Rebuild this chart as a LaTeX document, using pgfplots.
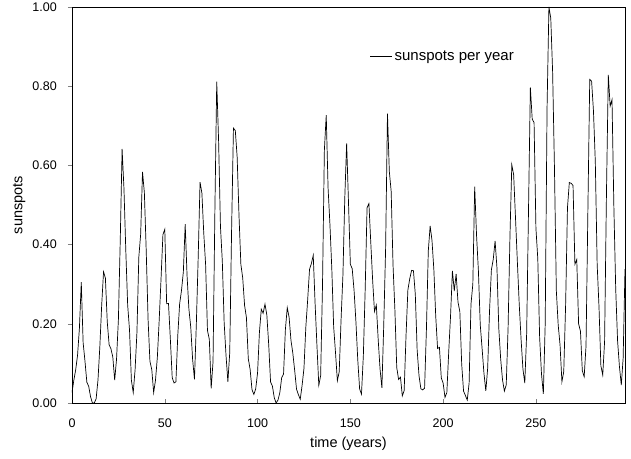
\documentclass[border=0pt]{standalone}
\usepackage{pgfplots}
\pgfplotsset{compat=1.18}
\usepackage{pgfplotstable}
\usepackage{fontspec}
\setmainfont{Liberation Sans}
\pgfplotstableread{
x y
0 5
1 11
2 16
3 23
4 36
5 58
6 29
7 20
8 10
9 8
10 3
11 0
12 0
13 2
14 11
15 27
16 47
17 63
18 60
19 39
20 28
21 26
22 22
23 11
24 21
25 40
26 78
27 122
28 103
29 73
30 47
31 35
32 11
33 5
34 16
35 34
36 70
37 81
38 111
39 101
40 73
41 40
42 20
43 16
44 5
45 11
46 22
47 40
48 60
49 80.9
50 83.4
51 47.7
52 47.8
53 30.7
54 12.2
55 9.6
56 10.2
57 32.4
58 47.6
59 54.0
60 62.9
61 85.9
62 61.2
63 45.1
64 36.4
65 20.9
66 11.4
67 37.8
68 69.8
69 106.1
70 100.8
71 81.6
72 66.5
73 34.8
74 30.6
75 7.0
76 19.8
77 92.5
78 154.4
79 125.9
80 84.8
81 68.1
82 38.5
83 22.8
84 10.2
85 24.1
86 82.9
87 132.0
88 130.9
89 118.1
90 89.9
91 66.6
92 60.0
93 46.9
94 41.0
95 21.3
96 16.0
97 6.4
98 4.1
99 6.8
100 14.5
101 34.0
102 45.0
103 43.1
104 47.5
105 42.2
106 28.1
107 10.1
108 8.1
109 2.5
110 0.0
111 1.4
112 5.0
113 12.2
114 13.9
115 35.4
116 45.8
117 41.1
118 30.1
119 23.9
120 15.6
121 6.6
122 4.0
123 1.8
124 8.5
125 16.6
126 36.3
127 49.6
128 64.2
129 67.0
130 70.9
131 47.8
132 27.5
133 8.5
134 13.2
135 56.9
136 121.5
137 138.3
138 103.2
139 85.7
140 64.6
141 36.7
142 24.2
143 10.7
144 15.0
145 40.1
146 61.5
147 98.5
148 124.7
149 96.3
150 66.6
151 64.5
152 54.1
153 39.0
154 20.6
155 6.7
156 4.3
157 22.7
158 54.8
159 93.8
160 95.8
161 77.2
162 59.1
163 44.0
164 47.0
165 30.5
166 16.3
167 7.3
168 37.6
169 74.0
170 139.0
171 111.2
172 101.6
173 66.2
174 44.7
175 17.0
176 11.3
177 12.4
178 3.4
179 6.0
180 32.3
181 54.3
182 59.7
183 63.7
184 63.5
185 52.2
186 25.4
187 13.1
188 6.8
189 6.3
190 7.1
191 35.6
192 73.0
193 85.1
194 78.0
195 64.0
196 41.8
197 26.2
198 26.7
199 12.1
200 9.5
201 2.7
202 5.0
203 24.4
204 42.0
205 63.5
206 53.8
207 62.0
208 48.5
209 43.9
210 18.6
211 5.7
212 3.6
213 1.4
214 9.6
215 47.4
216 57.1
217 103.9
218 80.6
219 63.6
220 37.6
221 26.1
222 14.2
223 5.8
224 16.7
225 44.3
226 63.9
227 69.0
228 77.8
229 64.9
230 35.7
231 21.2
232 11.1
233 5.7
234 8.7
235 36.1
236 79.7
237 114.4
238 109.6
239 88.8
240 67.8
241 47.5
242 30.6
243 16.3
244 9.6
245 33.2
246 92.6
247 151.6
248 136.3
249 134.7
250 83.9
251 69.4
252 31.5
253 13.9
254 4.4
255 38.0
256 141.7
257 190.2
258 184.8
259 159.0
260 112.3
261 53.9
262 37.5
263 27.9
264 10.2
265 15.1
266 47.0
267 93.8
268 105.9
269 105.5
270 104.5
271 66.6
272 68.9
273 38.0
274 34.5
275 15.5
276 12.6
277 27.5
278 92.5
279 155.4
280 154.6
281 140.4
282 115.9
283 66.6
284 45.9
285 17.9
286 13.4
287 29.4
288 100.2
289 157.6
290 142.6
291 145.7
292 94.3
293 54.6
294 29.9
295 17.5
296 8.6
297 21.5
298 64.3
}\sunspots
\begin{document}
\fontsize{12}{14}\selectfont
\begin{tikzpicture}
\begin{axis}[
  scale only axis,
  width=553pt, height=396pt,
  xmin=0, xmax=298, ymin=0, ymax=1,
  xtick={0,50,100,150,200,250},
  ytick={0,0.2,0.4,0.6,0.8,1.0},
  tick pos=left,
  xtick align=inside,
  ytick align=outside,
  major tick length=4pt,
  /pgf/number format/assume math mode=true,
  yticklabel style={/pgf/number format/fixed,/pgf/number format/fixed zerofill,/pgf/number format/precision=2},
  scaled y ticks=false,
  tick label style={font=\fontsize{12.5}{14}\selectfont},
  label style={font=\fontsize{14.5}{16}\selectfont},
  xlabel={time (years)},
  ylabel={sunspots},
  xticklabel style={yshift=-12pt},
  yticklabel style={xshift=-7pt},
  xlabel style={yshift=-1pt},
  ylabel style={yshift=-1pt},
  axis line style={line width=0.9pt},
  legend style={draw=none, fill=none, at={(0.538,0.875)}, anchor=west, font=\fontsize{15}{17}\selectfont, inner xsep=0pt},
  legend cell align=left,
  legend image post style={xscale=1.3},
]
\addplot[black, line width=0.7pt] table[x=x, y expr=\thisrow{y}/190.2] {\sunspots};
\addlegendentry{sunspots per year}
\end{axis}
\pgfresetboundingbox
\path ([shift={(-72pt,-56pt)}]current axis.south west) rectangle ([shift={(6pt,7pt)}]current axis.north east);
\end{tikzpicture}
\end{document}
